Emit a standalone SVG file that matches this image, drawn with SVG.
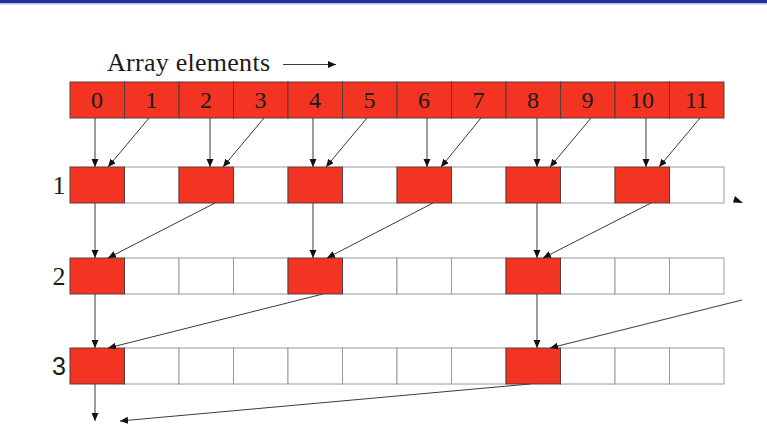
<svg xmlns="http://www.w3.org/2000/svg" width="767" height="442" viewBox="0 0 767 442">
<style>
.red{fill:#f33422;stroke:#5a3a36;stroke-width:1}
.wht{fill:#ffffff;stroke:#9a9a9a;stroke-width:1}
.num{font-family:"Liberation Serif",serif;font-size:24px;fill:#1a1a1a;text-anchor:middle}
.lbl{font-family:"Liberation Serif",serif;font-size:26px;fill:#1a1a1a;text-anchor:middle}
.lbls{font-family:"Liberation Sans",sans-serif;font-size:25px;fill:#1a1a1a;text-anchor:middle}
.ttl{font-family:"Liberation Serif",serif;font-size:26px;fill:#1a1a1a}
.con line{stroke:#3a3a3a;stroke-width:1;marker-end:url(#ah)}
</style>
<defs>
<marker id="ah" markerUnits="userSpaceOnUse" markerWidth="9" markerHeight="8" refX="8" refY="3.5" orient="auto">
<path d="M0,0 L8,3.5 L0,7 z" fill="#111"/>
</marker>
</defs>
<rect x="0" y="0" width="767" height="442" fill="#ffffff"/>
<rect x="0" y="0" width="767" height="3" fill="#22329a"/>
<rect x="0" y="3" width="767" height="1.5" fill="#b8bde0"/>

<g id="title">
<text class="ttl" x="107" y="71" textLength="163">Array elements</text>
<line x1="283" y1="64.5" x2="336" y2="64.5" stroke="#3a3a3a" stroke-width="1" marker-end="url(#ah)"/>
</g>

<g id="array">
<g id="a0"><rect class="red" x="70" y="82" width="54.5" height="36"/><text class="num" x="97" y="108">0</text></g>
<g id="a1"><rect class="red" x="124.5" y="82" width="54.5" height="36"/><text class="num" x="151.5" y="108">1</text></g>
<g id="a2"><rect class="red" x="179" y="82" width="54.5" height="36"/><text class="num" x="206" y="108">2</text></g>
<g id="a3"><rect class="red" x="233.5" y="82" width="54.5" height="36"/><text class="num" x="260.5" y="108">3</text></g>
<g id="a4"><rect class="red" x="288" y="82" width="54.5" height="36"/><text class="num" x="315" y="108">4</text></g>
<g id="a5"><rect class="red" x="342.5" y="82" width="54.5" height="36"/><text class="num" x="369.5" y="108">5</text></g>
<g id="a6"><rect class="red" x="397" y="82" width="54.5" height="36"/><text class="num" x="424" y="108">6</text></g>
<g id="a7"><rect class="red" x="451.5" y="82" width="54.5" height="36"/><text class="num" x="478.5" y="108">7</text></g>
<g id="a8"><rect class="red" x="506" y="82" width="54.5" height="36"/><text class="num" x="533" y="108">8</text></g>
<g id="a9"><rect class="red" x="560.5" y="82" width="54.5" height="36"/><text class="num" x="587.5" y="108">9</text></g>
<g id="a10"><rect class="red" x="615" y="82" width="54.5" height="36"/><text class="num" x="642" y="108">10</text></g>
<g id="a11"><rect class="red" x="669.5" y="82" width="54.5" height="36"/><text class="num" x="696.5" y="108">11</text></g>
</g>

<g id="row1">
<text class="lbl" x="59" y="194">1</text>
<g id="r1c1"><rect class="wht" x="124.5" y="167" width="54.5" height="36"/></g>
<g id="r1c3"><rect class="wht" x="233.5" y="167" width="54.5" height="36"/></g>
<g id="r1c5"><rect class="wht" x="342.5" y="167" width="54.5" height="36"/></g>
<g id="r1c7"><rect class="wht" x="451.5" y="167" width="54.5" height="36"/></g>
<g id="r1c9"><rect class="wht" x="560.5" y="167" width="54.5" height="36"/></g>
<g id="r1c11"><rect class="wht" x="669.5" y="167" width="54.5" height="36"/></g>
<g id="r1c0"><rect class="red" x="70" y="167" width="54.5" height="36"/></g>
<g id="r1c2"><rect class="red" x="179" y="167" width="54.5" height="36"/></g>
<g id="r1c4"><rect class="red" x="288" y="167" width="54.5" height="36"/></g>
<g id="r1c6"><rect class="red" x="397" y="167" width="54.5" height="36"/></g>
<g id="r1c8"><rect class="red" x="506" y="167" width="54.5" height="36"/></g>
<g id="r1c10"><rect class="red" x="615" y="167" width="54.5" height="36"/></g>
</g>

<g id="row2">
<text class="lbl" x="59" y="285">2</text>
<g id="r2c1"><rect class="wht" x="124.5" y="258" width="54.5" height="36"/></g>
<g id="r2c2"><rect class="wht" x="179" y="258" width="54.5" height="36"/></g>
<g id="r2c3"><rect class="wht" x="233.5" y="258" width="54.5" height="36"/></g>
<g id="r2c5"><rect class="wht" x="342.5" y="258" width="54.5" height="36"/></g>
<g id="r2c6"><rect class="wht" x="397" y="258" width="54.5" height="36"/></g>
<g id="r2c7"><rect class="wht" x="451.5" y="258" width="54.5" height="36"/></g>
<g id="r2c9"><rect class="wht" x="560.5" y="258" width="54.5" height="36"/></g>
<g id="r2c10"><rect class="wht" x="615" y="258" width="54.5" height="36"/></g>
<g id="r2c11"><rect class="wht" x="669.5" y="258" width="54.5" height="36"/></g>
<g id="r2c0"><rect class="red" x="70" y="258" width="54.5" height="36"/></g>
<g id="r2c4"><rect class="red" x="288" y="258" width="54.5" height="36"/></g>
<g id="r2c8"><rect class="red" x="506" y="258" width="54.5" height="36"/></g>
</g>

<g id="row3">
<text class="lbls" x="59" y="375">3</text>
<g id="r3c1"><rect class="wht" x="124.5" y="348" width="54.5" height="36"/></g>
<g id="r3c2"><rect class="wht" x="179" y="348" width="54.5" height="36"/></g>
<g id="r3c3"><rect class="wht" x="233.5" y="348" width="54.5" height="36"/></g>
<g id="r3c4"><rect class="wht" x="288" y="348" width="54.5" height="36"/></g>
<g id="r3c5"><rect class="wht" x="342.5" y="348" width="54.5" height="36"/></g>
<g id="r3c6"><rect class="wht" x="397" y="348" width="54.5" height="36"/></g>
<g id="r3c7"><rect class="wht" x="451.5" y="348" width="54.5" height="36"/></g>
<g id="r3c9"><rect class="wht" x="560.5" y="348" width="54.5" height="36"/></g>
<g id="r3c10"><rect class="wht" x="615" y="348" width="54.5" height="36"/></g>
<g id="r3c11"><rect class="wht" x="669.5" y="348" width="54.5" height="36"/></g>
<g id="r3c0"><rect class="red" x="70" y="348" width="54.5" height="36"/></g>
<g id="r3c8"><rect class="red" x="506" y="348" width="54.5" height="36"/></g>
</g>

<g id="connectors" class="con">
<line x1="95" y1="118" x2="95" y2="167"/>
<line x1="149" y1="118" x2="108" y2="167"/>
<line x1="210" y1="118" x2="210" y2="167"/>
<line x1="264" y1="118" x2="223" y2="167"/>
<line x1="313" y1="118" x2="313" y2="167"/>
<line x1="367" y1="118" x2="326" y2="167"/>
<line x1="427" y1="118" x2="427" y2="167"/>
<line x1="481" y1="118" x2="441" y2="167"/>
<line x1="537" y1="118" x2="537" y2="167"/>
<line x1="591" y1="118" x2="550" y2="167"/>
<line x1="646" y1="118" x2="646" y2="167"/>
<line x1="700" y1="118" x2="659" y2="167"/>

<line x1="95" y1="203" x2="95" y2="258"/>
<line x1="215" y1="203" x2="108" y2="258"/>
<line x1="313" y1="203" x2="313" y2="258"/>
<line x1="433" y1="203" x2="327" y2="258"/>
<line x1="537" y1="203" x2="537" y2="258"/>
<line x1="651" y1="203" x2="543" y2="258"/>

<line x1="95" y1="294" x2="95" y2="348"/>
<line x1="323" y1="294" x2="108" y2="348"/>
<line x1="537" y1="294" x2="537" y2="348"/>
<line x1="742" y1="300" x2="550" y2="348"/>

<line x1="95" y1="384" x2="95" y2="421"/>
<line x1="530" y1="384" x2="120" y2="421"/>
<path d="M735,196 L743,203 L733,202.5 z" fill="#111"/>
</g>
</svg>
